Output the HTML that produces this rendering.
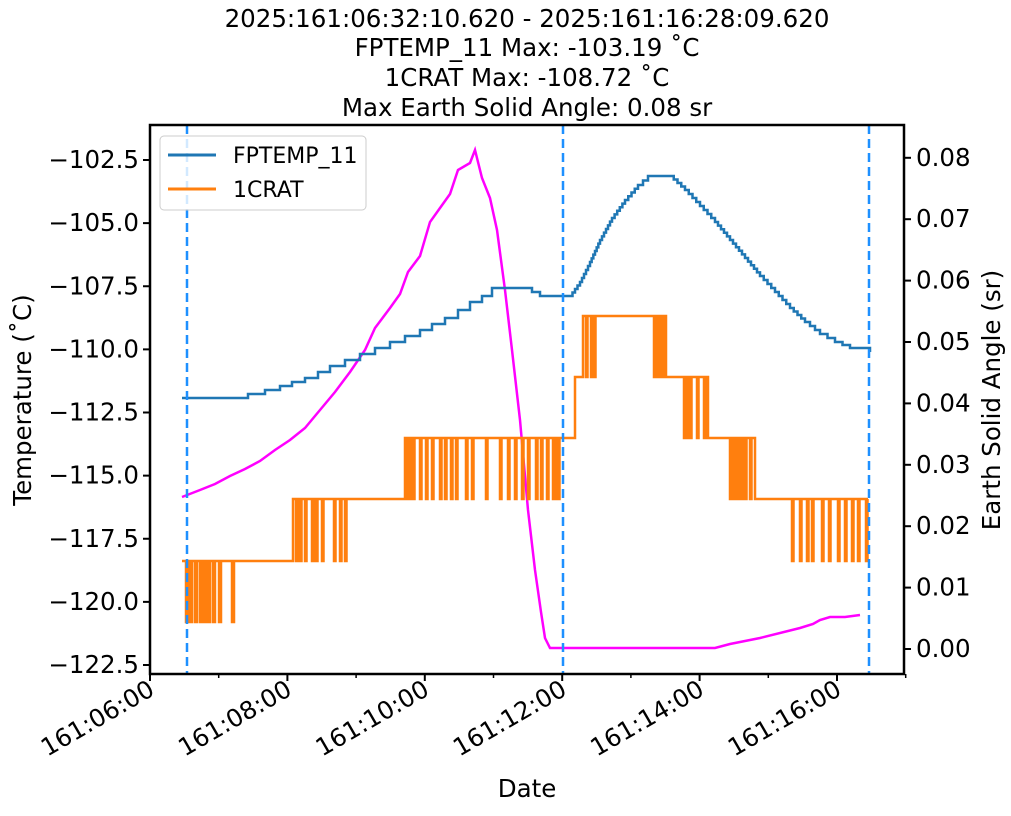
<!DOCTYPE html>
<html><head><meta charset="utf-8"><style>
html,body{margin:0;padding:0;background:#fff;}
svg text{font-family:"DejaVu Sans","Liberation Sans",sans-serif;fill:#000;}
</style></head><body>
<svg id="s" width="1011" height="811" xmlns="http://www.w3.org/2000/svg">
<rect width="1011" height="811" fill="#fff"/>
<g font-size="24.5" text-anchor="middle">
<text x="527" y="27">2025:161:06:32:10.620 - 2025:161:16:28:09.620</text>
<text x="527" y="56">FPTEMP_11 Max: -103.19 ˚C</text>
<text x="527" y="86">1CRAT Max: -108.72 ˚C</text>
<text x="527" y="116">Max Earth Solid Angle: 0.08 sr</text>
</g>
<g id="data"></g>
<line x1="187" y1="125" x2="187" y2="674" stroke="#1e90ff" stroke-width="2.5" stroke-dasharray="9,5"/>
<line x1="563" y1="125" x2="563" y2="674" stroke="#1e90ff" stroke-width="2.5" stroke-dasharray="9,5"/>
<line x1="869" y1="125" x2="869" y2="674" stroke="#1e90ff" stroke-width="2.5" stroke-dasharray="9,5"/>
<rect x="150" y="125" width="754" height="549" fill="none" stroke="#000" stroke-width="2.5"/>
<g id="ticks" font-size="24.5"></g>
<text x="527" y="797" font-size="24.5" text-anchor="middle">Date</text>
<text transform="translate(31,400) rotate(-90)" font-size="24.5" text-anchor="middle">Temperature (˚C)</text>
<text transform="translate(1000,400) rotate(-90)" font-size="24.5" text-anchor="middle">Earth Solid Angle (sr)</text>
<rect x="160" y="136" width="206" height="74" rx="4" fill="#fff" fill-opacity="0.8" stroke="#ccc"/>
<line x1="168" y1="155" x2="216" y2="155" stroke="#1f77b4" stroke-width="3"/>
<line x1="168" y1="189" x2="216" y2="189" stroke="#ff7f0e" stroke-width="3"/>
<text x="233" y="163" font-size="22">FPTEMP_11</text>
<text x="233" y="197" font-size="22">1CRAT</text>
</svg>
<script>
var NS="http://www.w3.org/2000/svg",s=document.getElementById('s'),T=document.getElementById('ticks'),D=document.getElementById('data');
function el(p,n,a,t){var e=document.createElementNS(NS,n);for(var k in a)e.setAttribute(k,a[k]);if(t)e.textContent=t;p.appendChild(e);return e;}
var ly=["−102.5","−105.0","−107.5","−110.0","−112.5","−115.0","−117.5","−120.0","−122.5"];
for(var i=0;i<9;i++){var y=160+i*63.125;el(T,'line',{x1:143,x2:150,y1:y,y2:y,stroke:'#000','stroke-width':2});el(T,'text',{x:139,y:y+8,'text-anchor':'end'},ly[i]);}
for(var i=0;i<9;i++){var y=649-i*61.4;el(T,'line',{x1:904,x2:911,y1:y,y2:y,stroke:'#000','stroke-width':2});el(T,'text',{x:916,y:y+8},"0.0"+i);}
var xl=["161:06:00","161:08:00","161:10:00","161:12:00","161:14:00","161:16:00"];
for(var i=0;i<6;i++){var x=150+i*137.4;el(T,'line',{x1:x,x2:x,y1:674,y2:681,stroke:'#000','stroke-width':2});el(T,'text',{'text-anchor':'end',transform:'translate('+(x+6)+',694) rotate(-30)'},xl[i]);}
for(var i=0;i<6;i++){var x=150+68.7+i*137.4;el(T,'line',{x1:x,x2:x,y1:674,y2:678,stroke:'#000','stroke-width':1.5});}
var m=[[182,497],[200,490],[215,484],[230,476],[245,469],[260,461],[275,450],[290,440],[305,428],[320,410],[335,392],[350,372],[365,350],[375,328],[390,308],[400,294],[408,272],[420,256],[430,222],[440,208],[450,194],[458,170],[470,163],[475,150],[482,178],[490,198],[497,230],[505,290],[512,350],[520,420],[528,510],[535,570],[541,612],[545,638],[550,648],[715,648],[730,644],[760,638],[800,628],[813,624],[820,620],[830,617],[845,617],[860,615]];
el(D,'polyline',{points:m.join(' '),fill:'none',stroke:'#ff00ff','stroke-width':2.5});
var b=[[182,398],[248,398],[248,394],[265,394],[265,390],[280,390],[280,386],[292,386],[292,382],[305,382],[305,378],[318,378],[318,372],[330,372],[330,366],[345,366],[345,360],[360,360],[360,354],[375,354],[375,348],[390,348],[390,342],[405,342],[405,336],[420,336],[420,330],[432,330],[432,324],[445,324],[445,318],[458,318],[458,310],[470,310],[470,302],[482,302],[482,296],[492,296],[492,288],[532,288],[532,292],[540,292],[540,296],[570,296]];
var pk=[[570,296],[580,282],[590,262],[600,240],[612,218],[625,200],[638,185],[648,176],[670,176],[685,190],[700,206],[715,222],[730,240],[745,258],[760,276],[775,292],[790,308],[805,322],[820,334],[835,342],[850,348],[870,352]];
var bs=b.slice();for(var i=1;i<pk.length;i++){var x0=pk[i-1][0],y0=pk[i-1][1],x1=pk[i][0],y1=pk[i][1];var n=Math.max(1,Math.round(Math.abs(y1-y0)/4));for(var k=1;k<=n;k++){var xx=x0+(x1-x0)*k/n,yy=y0+(y1-y0)*k/n;bs.push([xx,bs[bs.length-1][1]]);bs.push([xx,yy]);}}
el(D,'polyline',{points:bs.join(' '),fill:'none',stroke:'#1f77b4','stroke-width':2.5});
var o=[[182,561]];var cur=561;
function flat(x,y){o.push([x,cur]);o.push([x,y]);cur=y;}
// pulses: list of x positions where signal goes to 'a' briefly (width w) from base b
function pul(xs,a,b2,w){for(var i=0;i<xs.length;i++){flat(xs[i],a);flat(xs[i]+(w||1.5),b2);}}
flat(186,622);flat(188,561);pul([190,195,200,204,208,213,219,232],622,561,2);
flat(293,499);pul([296,300,305,312,316,322,334,340,345],561,499,1.5);
flat(405,438);pul([407,410,413,420,426,432,440,445,451,456,466],499,438,1.5);pul([472,486,500,508,515,522,528,536,541,547,553,556,558],499,438,1.5);
flat(575,377);flat(583,316);pul([586,591,594],377,316,1.5);flat(653,316);pul([654,657,659,662,664],377,316,1.5);flat(666,377);
pul([684,687,690,697,704],438,377,1.5);flat(708,438);flat(708,438);
pul([730,733,736,739,742,745,750],499,438,1.5);flat(755,499);
pul([792,800,807,812,822,829,838,845,852,858,866],561,499,1.5);flat(868,499);
el(D,'polyline',{points:o.join(' '),fill:'none',stroke:'#ff7f0e','stroke-width':2.5});
</script>
</body></html>
